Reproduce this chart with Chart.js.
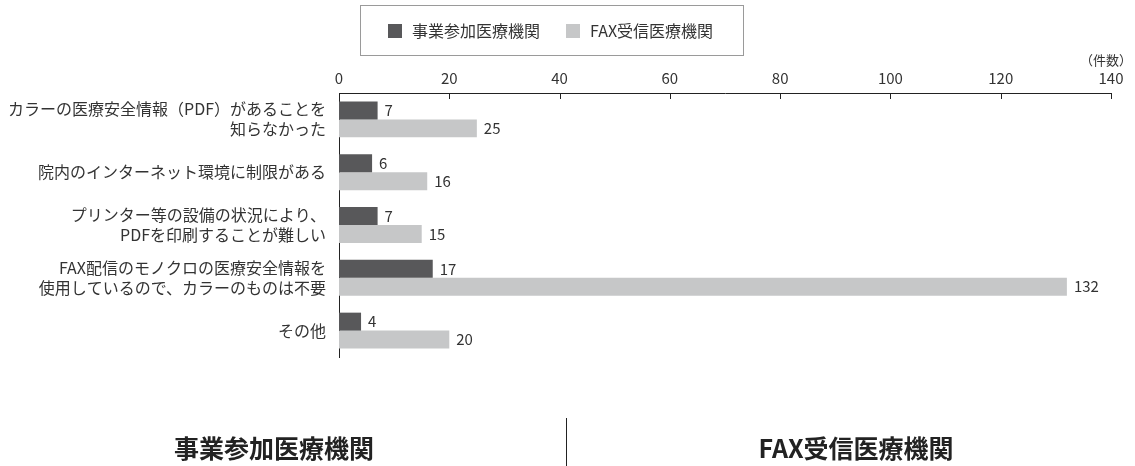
<!DOCTYPE html>
<html>
<head>
<meta charset="utf-8">
<script src="https://cdn.jsdelivr.net/npm/chart.js@4"></script>
<style>
  html, body { margin: 0; padding: 0; background: #fff; }
  #wrap { position: relative; width: 1135px; height: 466px; }
</style>
</head>
<body>
<div id="wrap"><canvas id="chart" width="1135" height="466"></canvas></div>
<script>
// categories (multi-line labels as arrays)
var categories = [
    ["カラーの医療安全情報（PDF）があることを", "知らなかった"],
    "院内のインターネット環境に制限がある",
    ["プリンター等の設備の状況により、", "PDFを印刷することが難しい"],
    ["FAX配信のモノクロの医療安全情報を", "使用しているので、カラーのものは不要"],
    "その他"
]
var series_names = ["事業参加医療機関", "FAX受信医療機関"]
var participant_counts = [7, 6, 7, 17, 4]
var fax_counts = [25, 16, 15, 132, 20]
var x_max = 140
var x_step = 20
var unit_label = "（件数）"
var panel_titles = ["事業参加医療機関", "FAX受信医療機関"]

var font_family = "'Noto Sans CJK JP', 'Noto Sans', sans-serif"
var dark_color = "#58585a"
var light_color = "#c6c7c8"
var text_color = "#333333"

// legend box at the top
var legendBox = {
    id: "legendBox",
    afterDraw: function(chart){
        var ctx = chart.ctx
        ctx.save()
        ctx.strokeStyle = "#9a9a9a"
        ctx.lineWidth = 1
        ctx.strokeRect(360.5, 5.5, 383, 50)
        var items = [
            {x: 388, color: dark_color, text: series_names[0]},
            {x: 566, color: light_color, text: series_names[1]}
        ]
        ctx.font = "16px " + font_family
        ctx.textBaseline = "middle"
        items.forEach(function(it){
            ctx.fillStyle = it.color
            ctx.fillRect(it.x, 24, 14, 14)
            ctx.fillStyle = text_color
            ctx.fillText(it.text, it.x + 24, 31)
        })
        ctx.restore()
    }
}

// value labels, inner ticks, unit label and the bottom titles
var extras = {
    id: "extras",
    afterDatasetsDraw: function(chart){
        var ctx = chart.ctx
        ctx.save()
        ctx.font = "15px " + font_family
        ctx.fillStyle = text_color
        ctx.textBaseline = "middle"
        ctx.textAlign = "left"
        chart.data.datasets.forEach(function(ds, di){
            chart.getDatasetMeta(di).data.forEach(function(bar, i){
                ctx.fillText(String(ds.data[i]), bar.x + 7, bar.y)
            })
        })

        // tick marks pointing down into the plot
        var xs = chart.scales.x
        var top = chart.chartArea.top
        ctx.strokeStyle = "#222"
        ctx.lineWidth = 1
        for(var v = 0; v <= x_max; v += x_step){
            var px = Math.round(xs.getPixelForValue(v)) + 0.5
            ctx.beginPath()
            ctx.moveTo(px, top)
            ctx.lineTo(px, top + 6)
            ctx.stroke()
        }

        ctx.font = "13px " + font_family
        ctx.textAlign = "right"
        ctx.textBaseline = "middle"
        ctx.fillText(unit_label, 1132, 60)

        // bottom panel titles
        ctx.font = "bold 25px " + font_family
        ctx.fillStyle = "#222"
        ctx.textAlign = "center"
        ctx.fillText(panel_titles[0], 274, 448)
        ctx.fillText(panel_titles[1], 856, 448)
        ctx.beginPath()
        ctx.moveTo(566.5, 418)
        ctx.lineTo(566.5, 466)
        ctx.stroke()
        ctx.restore()
    }
}

var chart = new Chart(document.getElementById("chart"), {
    type: "bar",
    data: {
        labels: categories,
        datasets: [
            {label: series_names[0], data: participant_counts, backgroundColor: dark_color},
            {label: series_names[1], data: fax_counts, backgroundColor: light_color}
        ]
    },
    options: {
        indexAxis: "y",
        responsive: false,
        animation: false,
        layout: {padding: {top: 0, right: 24, bottom: 109, left: 0}},
        datasets: {bar: {barPercentage: 1, categoryPercentage: 0.68}},
        plugins: {legend: {display: false}, tooltip: {enabled: false}},
        scales: {
            x: {
                position: "top",
                min: 0,
                max: x_max,
                ticks: {stepSize: x_step, color: text_color, font: {family: font_family, size: 15}, padding: 6},
                grid: {display: false, drawTicks: false},
                border: {display: true, color: "#222", width: 1},
                afterFit: function(scale){ scale.height = 93 }
            },
            y: {
                ticks: {color: text_color, font: {family: font_family, size: 16, lineHeight: 1.25}, padding: 13},
                grid: {display: false, drawTicks: false},
                border: {display: true, color: "#222", width: 1},
                afterFit: function(scale){ scale.width = 339 }
            }
        }
    },
    plugins: [legendBox, extras]
})
</script>
</body>
</html>
